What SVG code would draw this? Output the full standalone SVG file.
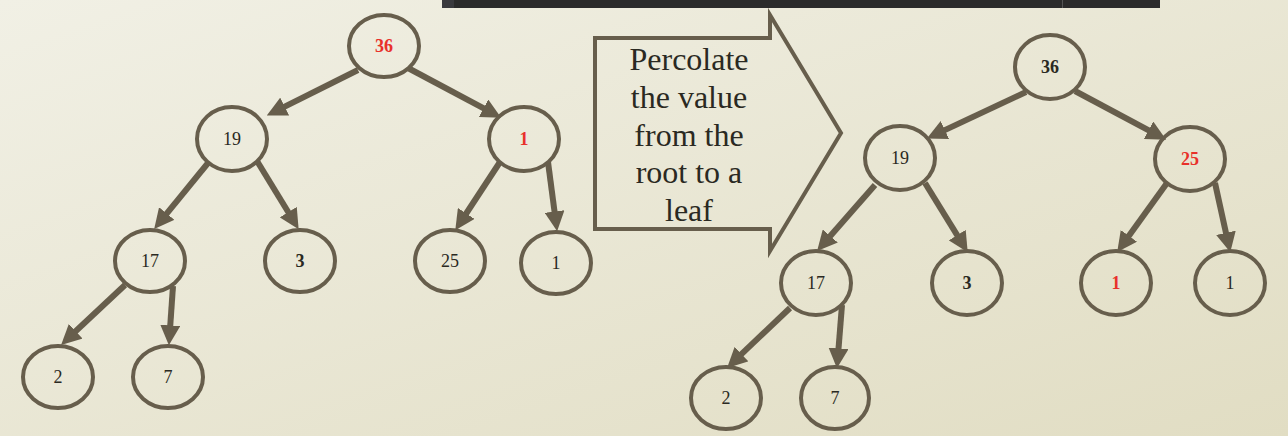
<svg xmlns="http://www.w3.org/2000/svg" width="1288" height="436" viewBox="0 0 1288 436">
<defs>
<linearGradient id="bg" x1="0" y1="0" x2="1" y2="1">
<stop offset="0" stop-color="#f1f0e5"/>
<stop offset="1" stop-color="#e1ddc3"/>
</linearGradient>
<marker id="ah" markerUnits="userSpaceOnUse" markerWidth="20" markerHeight="20" viewBox="0 0 18 18" refX="6" refY="9" orient="auto">
<path d="M0,0 L18,9 L0,18 Z" fill="#675e4c"/>
</marker>
<style>
.n ellipse{fill:none;stroke:#675e4c;stroke-width:4}
.n text{font-family:"Liberation Serif","DejaVu Serif",serif;font-size:18px;fill:#2a2922;text-anchor:middle}
.n text.b{font-weight:bold}
.n text.r{fill:#e8312a;font-weight:bold}
.c line{stroke:#675e4c;stroke-width:6;marker-end:url(#ah)}
.big{fill:none;stroke:#675e4c;stroke-width:4}
.bt{font-family:"Liberation Serif","DejaVu Serif",serif;font-size:32px;fill:#2a2922;text-anchor:middle}
</style>
</defs>
<rect width="1288" height="436" fill="url(#bg)"/>
<rect x="442" y="0" width="718" height="8" fill="#2b2b2b"/>
<rect x="442" y="0" width="12" height="8" fill="#3a3a3e"/>
<rect x="1062" y="0" width="1" height="8" fill="#555"/>

<g id="arrow-label">
<path class="big" d="M595,38 L770,38 L770,15 L841,133 L770,251 L770,229 L595,229 Z"/>
<text class="bt" x="689" y="70">Percolate</text>
<text class="bt" x="689" y="108">the value</text>
<text class="bt" x="689" y="146">from the</text>
<text class="bt" x="689" y="183">root to a</text>
<text class="bt" x="689" y="221">leaf</text>
</g>

<g id="connectors" class="c">
<line x1="358" y1="70" x2="278.7" y2="109.6"/>
<line x1="408" y1="68" x2="489.4" y2="111.4"/>
<line x1="208" y1="163" x2="162.6" y2="218.7"/>
<line x1="257" y1="161" x2="291.7" y2="217.8"/>
<line x1="500" y1="162" x2="462.6" y2="219"/>
<line x1="548" y1="162" x2="555.4" y2="218.1"/>
<line x1="125" y1="285" x2="70.8" y2="335.8"/>
<line x1="173" y1="286" x2="169.8" y2="332"/>
<line x1="1026" y1="92" x2="938.9" y2="132.9"/>
<line x1="1075" y1="91" x2="1154.4" y2="133.4"/>
<line x1="875" y1="185" x2="825.9" y2="241"/>
<line x1="925" y1="183" x2="960.7" y2="240.8"/>
<line x1="790" y1="308" x2="736.7" y2="358.7"/>
<line x1="842" y1="305" x2="838" y2="355"/>
<line x1="1167" y1="183" x2="1125" y2="241.3"/>
<line x1="1215" y1="183" x2="1227.4" y2="239.3"/>
</g>

<g id="L36" class="n"><ellipse cx="384" cy="46" rx="35" ry="31"/><text class="r" x="384" y="52">36</text></g>
<g id="L19" class="n"><ellipse cx="232" cy="139" rx="35" ry="32"/><text x="232" y="145">19</text></g>
<g id="L1a" class="n"><ellipse cx="524" cy="139" rx="35" ry="32"/><text class="r" x="524" y="145">1</text></g>
<g id="L17" class="n"><ellipse cx="150" cy="261" rx="35" ry="31"/><text x="150" y="267">17</text></g>
<g id="L3" class="n"><ellipse cx="300" cy="261" rx="35" ry="31"/><text class="b" x="300" y="267">3</text></g>
<g id="L25" class="n"><ellipse cx="450" cy="261" rx="35" ry="31"/><text x="450" y="267">25</text></g>
<g id="L1b" class="n"><ellipse cx="556" cy="263" rx="35" ry="31"/><text x="556" y="269">1</text></g>
<g id="L2" class="n"><ellipse cx="58" cy="377" rx="35" ry="31"/><text x="58" y="383">2</text></g>
<g id="L7" class="n"><ellipse cx="168" cy="377" rx="35" ry="31"/><text x="168" y="383">7</text></g>

<g id="R36" class="n"><ellipse cx="1050" cy="67" rx="35" ry="32"/><text class="b" x="1050" y="73">36</text></g>
<g id="R19" class="n"><ellipse cx="900" cy="158" rx="35" ry="32"/><text x="900" y="164">19</text></g>
<g id="R25" class="n"><ellipse cx="1190" cy="159" rx="35" ry="32"/><text class="r" x="1190" y="165">25</text></g>
<g id="R17" class="n"><ellipse cx="816" cy="283" rx="35" ry="32"/><text x="816" y="289">17</text></g>
<g id="R3" class="n"><ellipse cx="967" cy="283" rx="35" ry="32"/><text class="b" x="967" y="289">3</text></g>
<g id="R1a" class="n"><ellipse cx="1116" cy="283" rx="35" ry="32"/><text class="r" x="1116" y="289">1</text></g>
<g id="R1b" class="n"><ellipse cx="1230" cy="283" rx="35" ry="32"/><text x="1230" y="289">1</text></g>
<g id="R2" class="n"><ellipse cx="726" cy="398" rx="35" ry="31"/><text x="726" y="404">2</text></g>
<g id="R7" class="n"><ellipse cx="835" cy="398" rx="34" ry="31"/><text x="835" y="404">7</text></g>
</svg>
